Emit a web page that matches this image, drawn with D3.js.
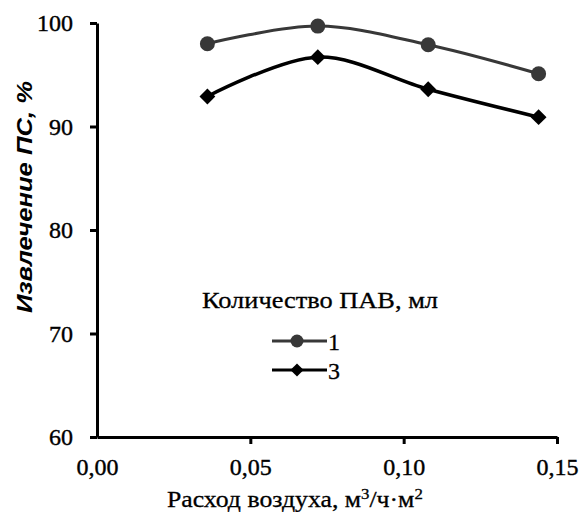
<!DOCTYPE html>
<html>
<head>
<meta charset="utf-8">
<script src="https://cdn.jsdelivr.net/npm/d3@7"></script>
<style>
  body { margin: 0; background: #fff; }
  svg text { font-family: "Liberation Serif", "Times New Roman", serif; fill: #000; }
</style>
</head>
<body>
<svg id="chart" width="581" height="512"></svg>
<script>
// air flow, m3/(h*m2)
var airFlow = [0.036, 0.072, 0.108, 0.144];
// extraction, % for surfactant amount 1 ml and 3 ml
var series1 = [98.0, 99.7, 97.9, 95.1];
var series3 = [92.9, 96.7, 93.6, 90.9];
var seriesNames = ["1", "3"];
var xTicks = [0, 0.05, 0.10, 0.15];
var yTicks = [60, 70, 80, 90, 100];

var svg = d3.select("#chart");
var margin = {top: 23, right: 24, bottom: 75, left: 97},
    width = 581 - margin.left - margin.right,
    height = 512 - margin.top - margin.bottom;

var g = svg.append("g").attr("transform", "translate(" + margin.left + "," + margin.top + ")");

var x = d3.scaleLinear().domain([0, 0.15]).range([0, width]);
var y = d3.scaleLinear().domain([60, 100]).range([height, 0]);

var fmt = function(d){ return d3.format(".2f")(d).replace(".", ","); };

var xAxis = g.append("g")
    .attr("transform", "translate(0," + height + ")")
    .call(d3.axisBottom(x).tickValues(xTicks).tickFormat(fmt).tickSize(7).tickSizeOuter(0));
var yAxis = g.append("g")
    .call(d3.axisLeft(y).tickValues(yTicks).tickSize(7).tickSizeOuter(0));

[xAxis, yAxis].forEach(function(a){
    a.attr("font-family", null).attr("font-size", null);
    a.select(".domain").attr("stroke", "#000").attr("stroke-width", 3);
    a.selectAll(".tick line").attr("stroke", "#000").attr("stroke-width", 3);
    a.selectAll(".tick text").attr("fill", "#000").style("font-size", "24px")
        .attr("stroke", "#000").attr("stroke-width", 0.4);
});
xAxis.selectAll(".tick text").attr("y", 21).attr("dy", "0.71em");
yAxis.selectAll(".tick text").attr("x", -24).attr("dy", "0.33em");
// the 0,00 tick has no mark below the axis in the picture
xAxis.selectAll(".tick").filter(function(d){ return d === 0; }).select("line").remove();

var line = d3.line()
    .x(function(d){ return x(d[0]); })
    .y(function(d){ return y(d[1]); })
    .curve(d3.curveCatmullRom.alpha(0.5));

var data1 = airFlow.map(function(v, i){ return [v, series1[i]]; });
var data3 = airFlow.map(function(v, i){ return [v, series3[i]]; });

g.append("path").datum(data1)
    .attr("fill", "none").attr("stroke", "#383838").attr("stroke-width", 3).attr("d", line);
g.append("path").datum(data3)
    .attr("fill", "none").attr("stroke", "#000").attr("stroke-width", 3.5).attr("d", line);

g.selectAll(".dot1").data(data1).enter().append("circle")
    .attr("cx", function(d){ return x(d[0]); })
    .attr("cy", function(d){ return y(d[1]); })
    .attr("r", 7.5).attr("fill", "#383838");

var diamond = d3.symbol().type(d3.symbolDiamond2).size(160);
g.selectAll(".dot3").data(data3).enter().append("path")
    .attr("d", diamond)
    .attr("transform", function(d){ return "translate(" + x(d[0]) + "," + y(d[1]) + ")"; })
    .attr("fill", "#000");

// legend
var legend = svg.append("g");
legend.append("text").attr("x", 202).attr("y", 308)
    .style("font-size", "23px").attr("stroke", "#000").attr("stroke-width", 0.3)
    .attr("textLength", 236).attr("lengthAdjust", "spacingAndGlyphs")
    .text("Количество ПАВ, мл");

var legColors = ["#383838", "#000"];
seriesNames.forEach(function(name, i){
    var ly = 341 + i * 29;
    legend.append("line").attr("x1", 272).attr("x2", 327).attr("y1", ly).attr("y2", ly)
        .attr("stroke", legColors[i]).attr("stroke-width", 3);
    if (i === 0) {
        legend.append("circle").attr("cx", 297).attr("cy", ly).attr("r", 6.5).attr("fill", legColors[i]);
    } else {
        legend.append("path").attr("d", d3.symbol().type(d3.symbolDiamond2).size(110))
            .attr("transform", "translate(297," + ly + ")").attr("fill", legColors[i]);
    }
    legend.append("text").attr("x", 328).attr("y", ly + 9)
        .style("font-size", "24px").attr("stroke", "#000").attr("stroke-width", 0.3).text(name);
});

// axis titles
var xt = svg.append("text").attr("transform", "translate(167,507) scale(1.12,1)")
    .style("font-size", "23px").attr("stroke", "#000").attr("stroke-width", 0.3);
xt.append("tspan").text("Расход воздуха, м");
xt.append("tspan").attr("dy", -8).style("font-size", "15px").text("3");
xt.append("tspan").attr("dy", 8).text("/ч·м");
xt.append("tspan").attr("dy", -8).style("font-size", "15px").text("2");

svg.append("text")
    .attr("transform", "translate(32,197) rotate(-90)")
    .attr("text-anchor", "middle")
    .style("font-family", "'Liberation Sans', Arial, sans-serif")
    .style("font-weight", "bold").style("font-style", "italic")
    .style("font-size", "22px")
    .attr("textLength", 232).attr("lengthAdjust", "spacingAndGlyphs")
    .text("Извлечение  ПС, %");
</script>
</body>
</html>
